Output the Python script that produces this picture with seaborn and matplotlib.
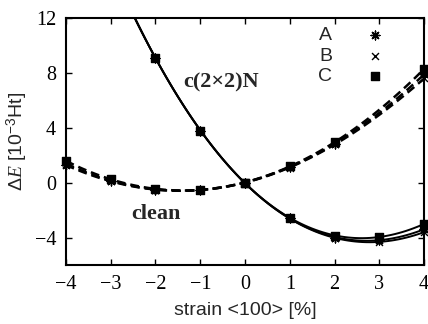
import matplotlib
matplotlib.use("Agg")
import matplotlib.pyplot as plt
import seaborn as sns
import numpy as np

# strain values (%)
strain_n = [-2, -1, 0, 1, 2, 3, 4]
strain_clean = [-4, -3, -2, -1, 0, 1, 2, 4]

# c(2x2)N energies [10^-3 Ht]
n_A = [9.1, 3.8, 0.0, -2.6, -4.0, -4.15, -3.4]
n_B = [9.1, 3.8, 0.0, -2.6, -4.05, -4.3, -3.6]
n_C = [9.1, 3.8, 0.0, -2.55, -3.85, -3.95, -3.0]

# clean surface energies [10^-3 Ht]
clean_A = [1.3, 0.1, -0.5, -0.5, 0.0, 1.15, 2.85, 7.9]
clean_B = [1.4, 0.15, -0.5, -0.5, 0.0, 1.1, 2.8, 7.6]
clean_C = [1.6, 0.25, -0.45, -0.5, 0.0, 1.2, 2.95, 8.3]

labels = ["A", "B", "C"]
markers = [(8, 2, 0), "x", "s"]
msizes = [40, 25, 28]

sns.set_style("ticks")
plt.rcParams["font.family"] = ["Liberation Serif", "DejaVu Serif"]
plt.rcParams["mathtext.fontset"] = "custom"
plt.rcParams["mathtext.rm"] = "Liberation Sans"
plt.rcParams["mathtext.it"] = "Liberation Serif:italic"

fig = plt.figure(figsize=(4.28, 3.24), dpi=100)
ax = fig.add_axes([0.154, 0.182, 0.837, 0.762])
ax.set_xlim(-4, 4)
ax.set_ylim(-6, 12)

# fitted curves (solid: c(2x2)N, dashed: clean) + data points
for lab, mk, ms, yn, yc in zip(labels, markers, msizes, [n_A, n_B, n_C], [clean_A, clean_B, clean_C]):
    sk = dict(s=ms, clip_on=False, zorder=4, linewidths=1.0, alpha=1)
    sns.regplot(x=strain_n, y=yn, order=3, ci=None, truncate=False, marker=mk,
                color="black", label=lab, ax=ax, scatter_kws=sk,
                line_kws=dict(lw=1.4, ls="-"))
    sns.regplot(x=strain_clean, y=yc, order=4, ci=None, truncate=False, marker=mk,
                color="black", ax=ax, scatter_kws=sk,
                line_kws=dict(lw=1.8, ls=(0, (3.5, 2))))

ax.set_xlim(-4, 4)
ax.set_ylim(-6, 12)
ax.set_xticks(range(-4, 5))
ax.set_yticks([-4, 0, 4, 8, 12])
ax.set_xticklabels(["\u2212%d" % -v if v < 0 else str(v) for v in range(-4, 5)])
ax.set_yticklabels(["\u22124", "0", "4", "8", "12"])
ax.tick_params(direction="in", length=4, width=1, labelsize=14.5, top=True, right=True,
               colors="black", pad=7)
for sp in ax.spines.values():
    sp.set_linewidth(1.5)
    sp.set_color("black")
    sp.set_visible(True)

ax.set_xlabel("strain <100> [%]", family="Liberation Sans", fontsize=14)
ax.xaxis.set_label_coords(0.5, -0.15)
ax.set_ylabel(r"$\mathit{\Delta E}$ [10$^{-3}$Ht]", family="Liberation Sans", fontsize=14)
ax.yaxis.set_label_coords(-0.10, 0.5)

ax.text(-1.39, 7.34, "c(2\u00d72)N", fontsize=16, fontweight="bold", va="center", ha="left")
ax.text(-2.53, -2.28, "clean", fontsize=16, fontweight="bold", va="center", ha="left")

leg = ax.legend(loc="upper right", bbox_to_anchor=(0.889, 0.965), frameon=False,
                markerfirst=False, prop=dict(family="Liberation Sans", size=14),
                labelspacing=0.15, handlelength=1, handletextpad=1.7,
                borderpad=0, borderaxespad=0)

fig.savefig("out.png", dpi=100)
